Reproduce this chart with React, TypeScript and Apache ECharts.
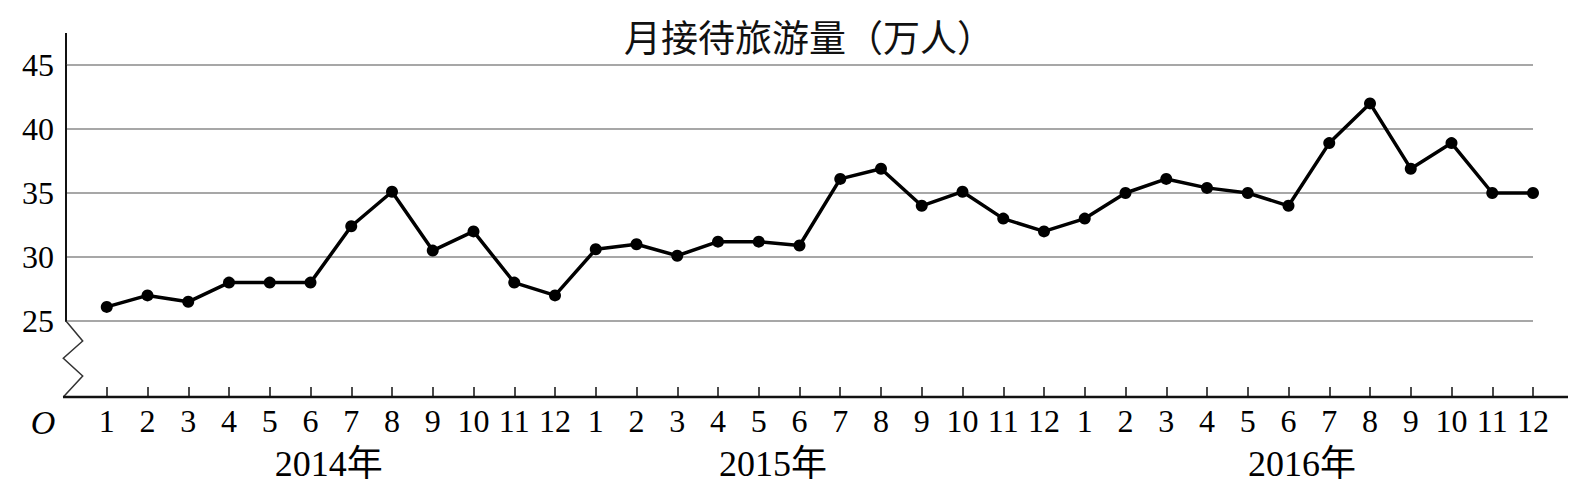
import React, { useEffect, useRef } from "react";
import * as echarts from "echarts";

const titleText = "月接待旅游量（万人）";
const years = ["2014", "2015", "2016"];
const yearLabels = ["2014年", "2015年", "2016年"];
const yearLabelPos = [5.45, 16.35, 29.33];
const monthTicks = ["1", "2", "3", "4", "5", "6", "7", "8", "9", "10", "11", "12"];
const values2014 = [26.1, 27, 26.5, 28, 28, 28, 32.4, 35.1, 30.5, 32, 28, 27];
const values2015 = [30.6, 31, 30.1, 31.2, 31.2, 30.9, 36.1, 36.9, 34, 35.1, 33, 32];
const values2016 = [33, 35, 36.1, 35.4, 35, 34, 38.9, 42, 36.9, 38.9, 35, 35];
const yMin = 25;
const yMax = 45;
const yStep = 5;

const W = 1580;
const H = 496;
const plotLeft = 66;
const plotRight = 1533;
const plotTop = 65;
const plotBottom = 321;
const axisY = 397;
const axisTop = 33;
const axisEnd = 1568;

const serif = '"Liberation Serif", "Times New Roman", serif';
const cjk = '"Noto Sans CJK SC", sans-serif';

export default function App() {
  const ref = useRef<HTMLDivElement>(null);
  useEffect(() => {
    if (!ref.current) return;
    const chart = echarts.init(ref.current, null, { renderer: "svg" });
    const categories: string[] = [];
    years.forEach((y) => monthTicks.forEach((m) => categories.push(`${y}-${m}`)));
    const allValues = [...values2014, ...values2015, ...values2016];
    const n = allValues.length;
    const unit = (plotRight - plotLeft) / n;
    const data = allValues.map((v, i) => [i + 1, v]);

    chart.setOption({
      animation: false,
      title: {
        text: titleText,
        left: 619,
        top: 12,
        textStyle: { fontFamily: cjk, fontSize: 37, fontWeight: "normal", color: "#111" },
      },
      grid: [
        { left: plotLeft, top: plotTop, width: plotRight - plotLeft, height: plotBottom - plotTop, containLabel: false },
        { left: plotLeft + unit / 2, top: plotBottom, width: unit * n, height: axisY - plotBottom, containLabel: false },
      ],
      xAxis: [
        { type: "value", gridIndex: 0, min: 0, max: n, show: false },
        {
          type: "category",
          gridIndex: 1,
          data: categories,
          boundaryGap: true,
          position: "bottom",
          axisLine: { show: false },
          axisTick: { show: true, alignWithLabel: true, inside: true, length: 10, lineStyle: { color: "#111", width: 1.5 } },
          axisLabel: {
            interval: 0,
            margin: 8,
            fontFamily: serif,
            fontSize: 32,
            color: "#000",
            formatter: (v: string) => v.split("-")[1],
          },
          splitLine: { show: false },
        },
      ],
      yAxis: [
        {
          type: "value",
          gridIndex: 0,
          min: yMin,
          max: yMax,
          interval: yStep,
          axisLine: { show: true, onZero: false, lineStyle: { color: "#111", width: 2 } },
          axisTick: { show: false },
          axisLabel: { margin: 12, fontFamily: serif, fontSize: 32, color: "#000" },
          splitLine: { show: true, lineStyle: { color: "#8a8a8a", width: 1.6 } },
        },
        { type: "value", gridIndex: 1, show: false },
      ],
      series: [
        {
          type: "line",
          xAxisIndex: 0,
          yAxisIndex: 0,
          data,
          symbol: "circle",
          symbolSize: 12,
          lineStyle: { color: "#000", width: 3.5 },
          itemStyle: { color: "#000" },
          z: 5,
        },
      ],
      graphic: [
        {
          type: "line",
          shape: { x1: plotLeft, y1: axisTop, x2: plotLeft, y2: plotTop },
          style: { stroke: "#111", lineWidth: 2 },
        },
        {
          type: "polyline",
          shape: {
            points: [
              [plotLeft, plotBottom],
              [plotLeft + 16.7, plotBottom + 20],
              [plotLeft - 2.7, plotBottom + 37.3],
              [plotLeft + 16.7, plotBottom + 55],
              [plotLeft - 2.7, axisY],
            ],
          },
          style: { stroke: "#333", lineWidth: 1.5, fill: "none" },
        },
        {
          type: "line",
          shape: { x1: plotLeft - 3, y1: axisY, x2: axisEnd, y2: axisY },
          style: { stroke: "#111", lineWidth: 2.5 },
        },
        ...yearLabels.map((t, i) => ({
          type: "text",
          x: plotLeft + unit / 2 + unit * (yearLabelPos[i] + 0.5),
          y: 464,
          style: {
            text: t,
            fontSize: 36,
            fontFamily: `"Liberation Serif", ${cjk}`,
            fill: "#000",
            textAlign: "center",
            textVerticalAlign: "middle",
          },
        })),
        {
          type: "text",
          x: 43,
          y: 422,
          style: {
            text: "O",
            fontSize: 34,
            fontStyle: "italic",
            fontFamily: '"Liberation Serif"',
            fill: "#000",
            textAlign: "center",
            textVerticalAlign: "middle",
          },
        },
      ],
    });
    return () => chart.dispose();
  }, []);
  return (
    <div
      ref={ref}
      style={{ position: "fixed", left: 0, top: 0, width: W, height: H, background: "#fff" }}
    />
  );
}
